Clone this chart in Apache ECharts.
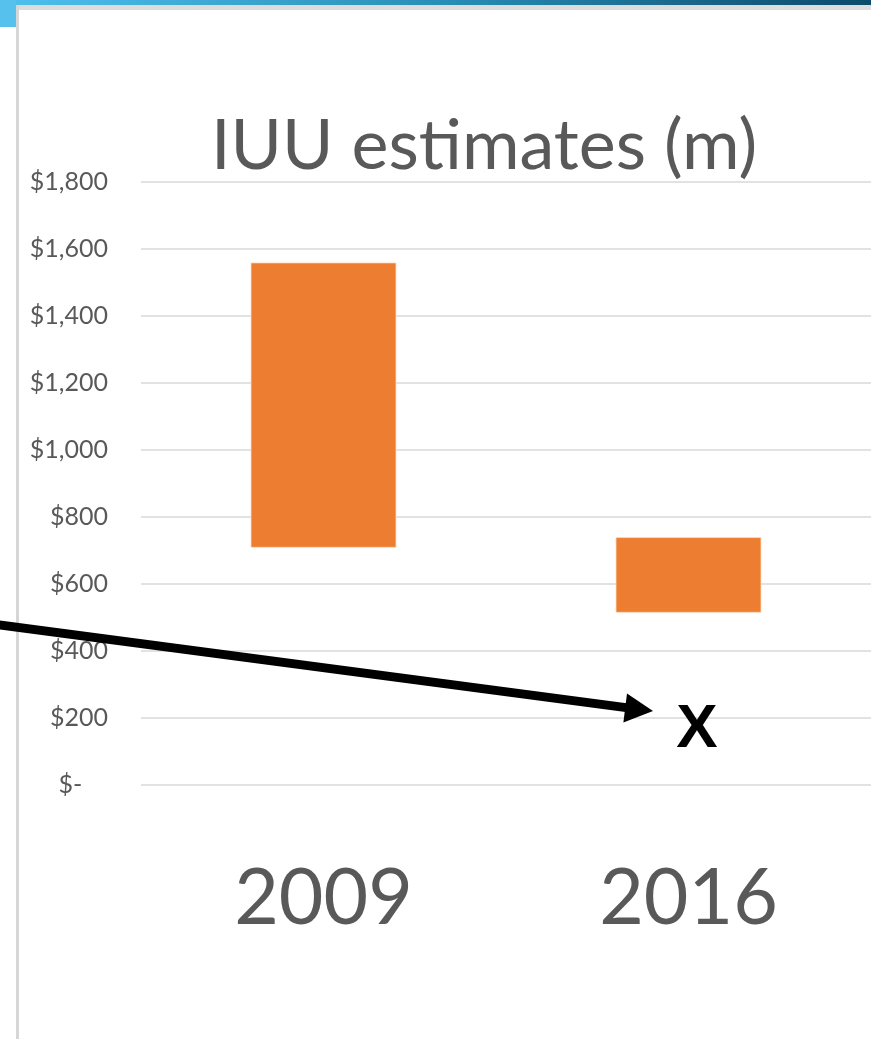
<!DOCTYPE html>
<html>
<head>
<meta charset="utf-8">
<script src="https://cdn.jsdelivr.net/npm/echarts@6/dist/echarts.min.js"></script>
<style>
  html, body { margin: 0; padding: 0; background: #fff; }
  #main { width: 871px; height: 1039px; }
</style>
</head>
<body>
<div id="main"></div>
<script>
// chart values
const years = ['2009', '2016'];
const lowValues = [708, 514];
const highValues = [1560, 740];
const yMin = 0, yMax = 1800, yStep = 200;

const rangeValues = highValues.map((h, i) => h - lowValues[i]);

const chart = echarts.init(document.getElementById('main'));

function money(v) {
  if (v === 0) return '$-    ';
  return '$' + v.toLocaleString('en-US');
}

var option = {
  animation: false,
  backgroundColor: '#fff',
  title: {
    text: 'IUU estimates (m)',
    left: 206,
    top: 106,
    textStyle: {
      fontFamily: 'Lato',
      fontWeight: 'normal',
      fontSize: 70,
      color: '#595959'
    }
  },
  grid: {
    left: 141,
    top: 182,
    width: 732,
    height: 603
  },
  xAxis: {
    type: 'category',
    data: years,
    axisLine: { show: false },
    axisTick: { show: false },
    axisLabel: {
      margin: 76,
      fontFamily: 'Lato',
      fontSize: 77,
      lineHeight: 77,
      color: '#595959'
    }
  },
  yAxis: {
    type: 'value',
    min: yMin,
    max: yMax,
    interval: yStep,
    axisLine: { show: false },
    axisTick: { show: false },
    splitLine: { lineStyle: { color: '#d9d9d9', width: 1.5 } },
    axisLabel: {
      margin: 33,
      fontFamily: 'Lato',
      fontSize: 25,
      color: '#595959',
      formatter: money
    }
  },
  series: [
    {
      name: 'base',
      type: 'bar',
      stack: 'range',
      barWidth: 146,
      itemStyle: { color: 'transparent' },
      data: lowValues
    },
    {
      name: 'IUU',
      type: 'bar',
      stack: 'range',
      barWidth: 146,
      itemStyle: {
        color: '#ED7D31',
        borderColor: 'rgba(255,220,190,0.8)',
        borderWidth: 1
      },
      data: rangeValues
    }
  ],
  graphic: [
    // slide frame
    {
      type: 'rect',
      shape: { x: 0, y: 0, width: 871, height: 5 },
      style: {
        fill: new echarts.graphic.LinearGradient(0, 0, 1, 0, [
          { offset: 0, color: '#4fc0ee' },
          { offset: 0.5, color: '#2a8fb8' },
          { offset: 1, color: '#0b4a6b' }
        ])
      }
    },
    {
      type: 'rect',
      shape: { x: 0, y: 0, width: 16, height: 27 },
      style: { fill: '#56c1ec' }
    },
    {
      type: 'rect',
      shape: { x: 16, y: 5, width: 855, height: 5 },
      style: { fill: '#dcdcdc' }
    },
    {
      type: 'rect',
      shape: { x: 16, y: 5, width: 3, height: 1034 },
      style: { fill: '#d6d6d6' }
    },
    // annotation arrow
    {
      type: 'line',
      shape: { x1: -5, y1: 624.3, x2: 628, y2: 707.9 },
      style: { stroke: '#000', lineWidth: 9 },
      z: 100
    },
    {
      type: 'polygon',
      shape: { points: [[653, 711], [623.4, 722.4], [627.0, 693.6]] },
      style: { fill: '#000' },
      z: 100
    },
    {
      type: 'text',
      style: {
        x: 697,
        y: 730,
        text: 'X',
        align: 'center',
        verticalAlign: 'middle',
        fontFamily: 'Liberation Sans',
        fontWeight: 'bold',
        fontSize: 62,
        fill: '#000'
      },
      z: 100
    }
  ]
};

chart.setOption(option);
</script>
</body>
</html>
